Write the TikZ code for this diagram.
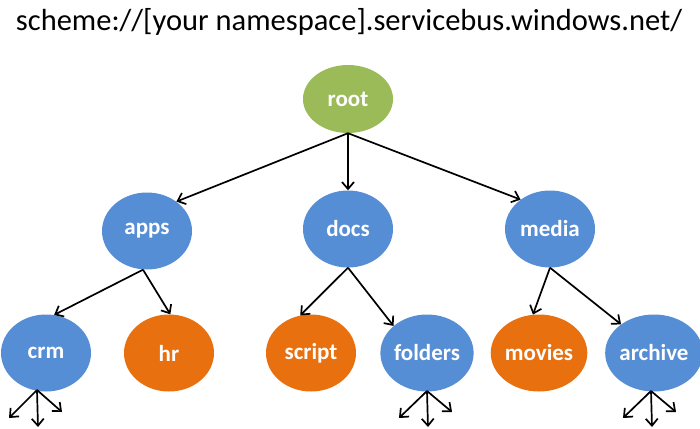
\documentclass[tikz,border=0pt]{standalone}
\usepackage{fontspec}
\setmainfont{Carlito}
\usetikzlibrary{shapes.geometric,arrows.meta}
\definecolor{cgreen}{HTML}{9BBB59}
\definecolor{cblue}{HTML}{558ED5}
\definecolor{corange}{HTML}{E8700F}
\tikzset{
  bubble/.style={ellipse, minimum width=90pt, minimum height=77pt, inner sep=0pt,
    text=white, font=\fontsize{23}{23}\selectfont\bfseries},
  greenb/.style={bubble, fill=cgreen},
  blueb/.style={bubble, fill=cblue},
  orangeb/.style={bubble, fill=corange},
  link/.style={line width=1.7pt, -{Straight Barb[length=7pt,width=12pt,line width=1.7pt]}},
}
\begin{document}
\begin{tikzpicture}[x=1pt,y=-1pt]
\useasboundingbox (0,0) rectangle (700,428);
\node (title) at (349,22) {\fontsize{30.5}{30.5}\selectfont scheme://[your namespace].servicebus.windows.net/};
\node[greenb, minimum height=68pt] (root) at (348,99) {root};
\node[blueb] (apps) at (147,231) {apps};
\node[blueb] (docs) at (348,229) {docs};
\node[blueb] (media) at (550,229) {media};
\node[blueb] (crm) at (46,353) {crm};
\node[orangeb] (hr) at (169,353) {hr};
\node[orangeb] (script) at (311,353) {script};
\node[blueb] (folders) at (427,353) {folders};
\node[orangeb] (movies) at (539,353) {movies};
\node[blueb] (archive) at (654,353) {archive};
\draw[link] (root.south) -- (apps.45);
\draw[link] (root.south) -- (docs.north);
\draw[link] (root.south) -- (media.135);
\draw[link] ([xshift=-4pt]apps.south) -- (crm.78);
\draw[link] ([xshift=-4pt]apps.south) -- (hr.88);
\draw[link] (docs.south) -- (script.106);
\draw[link] (docs.south) -- (folders.141);
\draw[link] (media.south) -- (movies.99);
\draw[link] (media.south) -- (archive.139);
% outgoing stubs
\coordinate (crmS) at (37,390);
\coordinate (crmA) at (9,418);
\coordinate (crmB) at (38,427);
\coordinate (crmC) at (62,412);
\coordinate (folS) at (427,391);
\coordinate (folA) at (399,418);
\coordinate (folB) at (428,427);
\coordinate (folC) at (452,412);
\coordinate (arcS) at (651,391);
\coordinate (arcA) at (623,418);
\coordinate (arcB) at (652,427);
\coordinate (arcC) at (676,412);
\foreach \s in {crm,fol,arc}{
  \draw[link] (\s S) -- (\s A);
  \draw[link] (\s S) -- (\s B);
  \draw[link] (\s S) -- (\s C);
}
\end{tikzpicture}
\end{document}
